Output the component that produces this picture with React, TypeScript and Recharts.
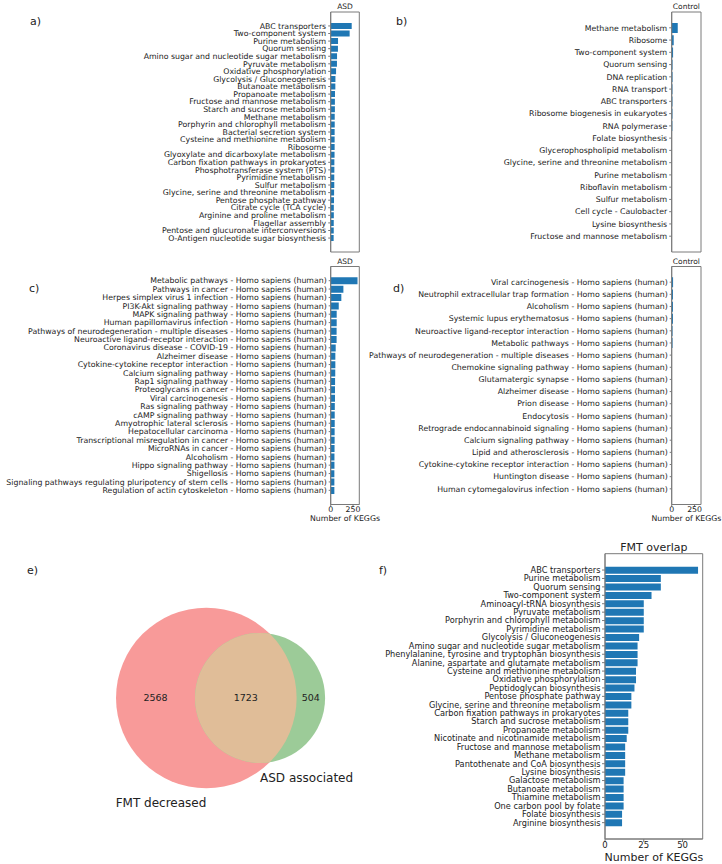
import React from 'react';
import { BarChart, Bar, XAxis, YAxis, CartesianGrid, ScatterChart, Scatter, ZAxis } from 'recharts';

const FONT = '"DejaVu Sans", sans-serif';
const INK = '#222222';
const FRAME = '#7a7a7a';
const BLUE = '#1f77b4';

// a) ASD - microbial KEGG pathways
const asdMicrobeNames = [
  'ABC transporters', 'Two-component system', 'Purine metabolism', 'Quorum sensing',
  'Amino sugar and nucleotide sugar metabolism', 'Pyruvate metabolism', 'Oxidative phosphorylation',
  'Glycolysis / Gluconeogenesis', 'Butanoate metabolism', 'Propanoate metabolism',
  'Fructose and mannose metabolism', 'Starch and sucrose metabolism', 'Methane metabolism',
  'Porphyrin and chlorophyll metabolism', 'Bacterial secretion system', 'Cysteine and methionine metabolism',
  'Ribosome', 'Glyoxylate and dicarboxylate metabolism', 'Carbon fixation pathways in prokaryotes',
  'Phosphotransferase system (PTS)', 'Pyrimidine metabolism', 'Sulfur metabolism',
  'Glycine, serine and threonine metabolism', 'Pentose phosphate pathway', 'Citrate cycle (TCA cycle)',
  'Arginine and proline metabolism', 'Flagellar assembly', 'Pentose and glucuronate interconversions',
  'O-Antigen nucleotide sugar biosynthesis',
];
const asdMicrobeCounts = [235, 212, 82, 81, 71, 70, 60, 53, 52, 48, 47, 47, 45, 45, 44, 44, 44, 43, 41, 41, 40, 40, 38, 37, 35, 35, 34, 34, 33];

// b) Control - microbial KEGG pathways
const ctrlMicrobeNames = [
  'Methane metabolism', 'Ribosome', 'Two-component system', 'Quorum sensing', 'DNA replication',
  'RNA transport', 'ABC transporters', 'Ribosome biogenesis in eukaryotes', 'RNA polymerase',
  'Folate biosynthesis', 'Glycerophospholipid metabolism', 'Glycine, serine and threonine metabolism',
  'Purine metabolism', 'Riboflavin metabolism', 'Sulfur metabolism', 'Cell cycle - Caulobacter',
  'Lysine biosynthesis', 'Fructose and mannose metabolism',
];
const ctrlMicrobeCounts = [66, 22, 15, 9, 9, 8, 8, 8, 7, 3, 3, 3, 3, 3, 3, 2, 2, 2];

// c) ASD - human KEGG pathways
const asdHumanNames = [
  'Metabolic pathways', 'Pathways in cancer', 'Herpes simplex virus 1 infection', 'PI3K-Akt signaling pathway',
  'MAPK signaling pathway', 'Human papillomavirus infection', 'Pathways of neurodegeneration - multiple diseases',
  'Neuroactive ligand-receptor interaction', 'Coronavirus disease - COVID-19', 'Alzheimer disease',
  'Cytokine-cytokine receptor interaction', 'Calcium signaling pathway', 'Rap1 signaling pathway',
  'Proteoglycans in cancer', 'Viral carcinogenesis', 'Ras signaling pathway', 'cAMP signaling pathway',
  'Amyotrophic lateral sclerosis', 'Hepatocellular carcinoma', 'Transcriptional misregulation in cancer',
  'MicroRNAs in cancer', 'Alcoholism', 'Hippo signaling pathway', 'Shigellosis',
  'Signaling pathways regulating pluripotency of stem cells', 'Regulation of actin cytoskeleton',
].map((n) => `${n} - Homo sapiens (human)`);
const asdHumanCounts = [300, 142, 119, 90, 67, 67, 66, 66, 56, 52, 52, 51, 49, 48, 48, 46, 45, 45, 44, 44, 43, 42, 42, 41, 41, 41];

// d) Control - human KEGG pathways
const ctrlHumanNames = [
  'Viral carcinogenesis', 'Neutrophil extracellular trap formation', 'Alcoholism', 'Systemic lupus erythematosus',
  'Neuroactive ligand-receptor interaction', 'Metabolic pathways', 'Pathways of neurodegeneration - multiple diseases',
  'Chemokine signaling pathway', 'Glutamatergic synapse', 'Alzheimer disease', 'Prion disease', 'Endocytosis',
  'Retrograde endocannabinoid signaling', 'Calcium signaling pathway', 'Lipid and atherosclerosis',
  'Cytokine-cytokine receptor interaction', 'Huntington disease', 'Human cytomegalovirus infection',
].map((n) => `${n} - Homo sapiens (human)`);
const ctrlHumanCounts = [15, 14, 14, 14, 9, 9, 3, 3, 3, 3, 3, 3, 3, 3, 2, 2, 2, 2];

// f) FMT overlap
const overlapNames = [
  'ABC transporters', 'Purine metabolism', 'Quorum sensing', 'Two-component system', 'Aminoacyl-tRNA biosynthesis',
  'Pyruvate metabolism', 'Porphyrin and chlorophyll metabolism', 'Pyrimidine metabolism',
  'Glycolysis / Gluconeogenesis', 'Amino sugar and nucleotide sugar metabolism',
  'Phenylalanine, tyrosine and tryptophan biosynthesis', 'Alanine, aspartate and glutamate metabolism',
  'Cysteine and methionine metabolism', 'Oxidative phosphorylation', 'Peptidoglycan biosynthesis',
  'Pentose phosphate pathway', 'Glycine, serine and threonine metabolism', 'Carbon fixation pathways in prokaryotes',
  'Starch and sucrose metabolism', 'Propanoate metabolism', 'Nicotinate and nicotinamide metabolism',
  'Fructose and mannose metabolism', 'Methane metabolism', 'Pantothenate and CoA biosynthesis',
  'Lysine biosynthesis', 'Galactose metabolism', 'Butanoate metabolism', 'Thiamine metabolism',
  'One carbon pool by folate', 'Folate biosynthesis', 'Arginine biosynthesis',
];
const overlapCounts = [60, 36, 36, 30, 25, 25, 25, 25, 22, 21, 21, 21, 20, 20, 19, 17, 17, 15, 15, 15, 14, 13, 13, 13, 13, 12, 12, 12, 12, 11, 11];

// e) venn
const vennSetNames = ['FMT decreased', 'ASD associated'];
const vennSubsetCounts = [2568, 504, 1723]; // only A, only B, both

const sharedDomain: [number, number] = [0, 320];
const sharedTicks = [0, 250];
const overlapDomain: [number, number] = [0, 63];
const overlapTicks = [0, 25, 50];

const toRows = (names: string[], values: number[]) => names.map((name, i) => ({ name, value: values[i] }));

type Margin = { top: number; right: number; bottom: number; left: number };

interface BarPanelProps {
  names: string[];
  values: number[];
  left: number;
  top: number;
  width: number;
  height: number;
  margin: Margin;
  axisWidth: number;
  xAxisHeight: number;
  showTicks: boolean;
  domain: [number, number];
  ticks: number[];
  labelSize: number;
  tickFont: number;
  tickLen: number;
  tickGap: number;
}

// frame = grid lines only at the plot edges
const frameRows = ({ offset }: any) => [offset.top, offset.top + offset.height];
const frameCols = ({ offset }: any) => [offset.left, offset.left + offset.width];

const BarPanel = (p: BarPanelProps) => {
  const data = toRows(p.names, p.values);
  const plotH = p.height - p.margin.top - p.margin.bottom - p.xAxisHeight;
  // matplotlib-like outer margin: bars of height 0.8 plus 5% padding
  const n = data.length;
  const units = (n - 0.2) * 1.1;
  const pad = (plotH * (1 - n / units)) / 2;
  const line = { stroke: FRAME, strokeWidth: 1 };
  return (
    <div style={{ position: 'absolute', left: p.left, top: p.top }}>
      <BarChart width={p.width} height={p.height} data={data} layout="vertical" margin={p.margin} barCategoryGap="10%">
        <CartesianGrid
          stroke={FRAME}
          fill="none"
          horizontalCoordinatesGenerator={frameRows}
          verticalCoordinatesGenerator={frameCols}
        />
        <XAxis
          type="number"
          dataKey="value"
          domain={p.domain}
          ticks={p.ticks}
          allowDataOverflow
          height={p.xAxisHeight}
          axisLine={line}
          tickLine={p.showTicks ? line : false}
          tickSize={p.tickLen}
          tickMargin={0}
          tick={p.showTicks ? { fontSize: p.tickFont, fill: INK } : false}
        />
        <YAxis
          type="category"
          dataKey="name"
          width={p.axisWidth}
          interval={0}
          padding={{ top: pad, bottom: pad }}
          axisLine={line}
          tickLine={line}
          tickSize={p.tickLen}
          tickMargin={p.tickGap}
          tick={(t: any) => (
            <text x={t.x} y={t.y} dy="0.35em" textAnchor="end" fontSize={p.labelSize} fill={INK} fontFamily={FONT}>
              {t.payload.value}
            </text>
          )}
        />
        <Bar dataKey="value" fill={BLUE} isAnimationActive={false} />
      </BarChart>
    </div>
  );
};

const Txt = ({ x, y, size, children, anchor = 'middle' }: { x: number; y: number; size: number; children: React.ReactNode; anchor?: 'middle' | 'start' }) => (
  <div
    style={{
      position: 'absolute',
      left: x,
      top: y,
      transform: anchor === 'middle' ? 'translate(-50%, -50%)' : 'translate(0, -50%)',
      fontSize: size,
      lineHeight: 1,
      whiteSpace: 'nowrap',
      color: INK,
      fontFamily: FONT,
    }}
  >
    {children}
  </div>
);

// lens area of two circles at distance d
function lensArea(d: number, r1: number, r2: number) {
  if (d >= r1 + r2) return 0;
  if (d <= Math.abs(r1 - r2)) return Math.PI * Math.min(r1, r2) ** 2;
  const a = r1 * r1 * Math.acos((d * d + r1 * r1 - r2 * r2) / (2 * d * r1));
  const b = r2 * r2 * Math.acos((d * d + r2 * r2 - r1 * r1) / (2 * d * r2));
  const c = 0.5 * Math.sqrt((-d + r1 + r2) * (d + r1 - r2) * (d - r1 + r2) * (d + r1 + r2));
  return a + b - c;
}

function solveDistance(r1: number, r2: number, target: number) {
  let lo = Math.abs(r1 - r2);
  let hi = r1 + r2;
  for (let i = 0; i < 60; i++) {
    const mid = (lo + hi) / 2;
    if (lensArea(mid, r1, r2) > target) lo = mid;
    else hi = mid;
  }
  return (lo + hi) / 2;
}

const VENN_W = 361;
const VENN_H = 344;
const vennXDomain: [number, number] = [-2.285, 1.713];
const vennYDomain: [number, number] = [-1.839, 1.971];

const circleShape = (fill: string, clipUse?: string, clipDefine?: string) => (p: any) => {
  const r = Math.sqrt(Math.max(p.size ?? 0, 0) / Math.PI);
  return (
    <g>
      {clipDefine && (
        <defs>
          <clipPath id={clipDefine}>
            <circle cx={p.cx} cy={p.cy} r={r} />
          </clipPath>
        </defs>
      )}
      <circle cx={p.cx} cy={p.cy} r={r} fill={fill} clipPath={clipUse ? `url(#${clipUse})` : undefined} />
    </g>
  );
};

const VennPanel = () => {
  const [onlyA, onlyB, both] = vennSubsetCounts;
  const sizeA = onlyA + both;
  const sizeB = onlyB + both;
  const rA = 1;
  const rB = Math.sqrt(sizeB / sizeA);
  const d = solveDistance(rA, rB, (Math.PI * both) / sizeA);
  const pxPerUnit = VENN_W / (vennXDomain[1] - vennXDomain[0]);

  const circleA = [{ x: 0, y: 0, z: sizeA }];
  const circleB = [{ x: d, y: 0, z: sizeB }];
  const regionLabels = [
    { x: (-rA + d - rB) / 2, y: 0, z: 0, label: String(onlyA) },
    { x: (d - rB + rA) / 2, y: 0, z: 0, label: String(both) },
    { x: (rA + d + rB) / 2, y: 0, z: 0, label: String(onlyB) },
  ];
  const setLabels = [
    { x: 0, y: -rA, z: 0, label: vennSetNames[0], anchor: 'end' },
    { x: d, y: -rB, z: 0, label: vennSetNames[1], anchor: 'start' },
  ];

  return (
    <div style={{ position: 'absolute', left: 0, top: 520 }}>
      <ScatterChart width={VENN_W} height={VENN_H} margin={{ top: 0, right: 0, bottom: 0, left: 0 }}>
        <XAxis type="number" dataKey="x" domain={vennXDomain} allowDataOverflow hide />
        <YAxis type="number" dataKey="y" domain={vennYDomain} allowDataOverflow hide />
        <ZAxis type="number" dataKey="z" domain={[0, sizeA]} range={[0, Math.PI * pxPerUnit * pxPerUnit]} />
        <Scatter data={circleA} shape={circleShape('#f89a99')} isAnimationActive={false} />
        <Scatter data={circleB} shape={circleShape('#9ccb98', undefined, 'venn-clip-b')} isAnimationActive={false} />
        <Scatter data={circleA} shape={circleShape('#e0bd98', 'venn-clip-b')} isAnimationActive={false} />
        <Scatter
          data={regionLabels}
          isAnimationActive={false}
          shape={(p: any) => (
            <text x={p.cx} y={p.cy} dy="0.35em" textAnchor="middle" fontSize={9.5} fill={INK} fontFamily={FONT}>
              {p.payload.label}
            </text>
          )}
        />
        <Scatter
          data={setLabels}
          isAnimationActive={false}
          shape={(p: any) => (
            <text x={p.cx} y={p.cy + 18.8} textAnchor={p.payload.anchor} fontSize={12} fill={INK} fontFamily={FONT}>
              {p.payload.label}
            </text>
          )}
        />
      </ScatterChart>
    </div>
  );
};

export default function App() {
  const small = 7.8;
  return (
    <div style={{ position: 'absolute', left: 0, top: 0, width: 722, height: 864, background: '#fff', fontFamily: FONT, overflow: 'hidden' }}>
      <BarPanel
        names={asdMicrobeNames} values={asdMicrobeCounts}
        left={0} top={0} width={361} height={254}
        margin={{ top: 12, right: 1.7, bottom: 2, left: 0 }}
        axisWidth={330.7} xAxisHeight={0} showTicks={false}
        domain={sharedDomain} ticks={sharedTicks}
        labelSize={small} tickFont={small} tickLen={2.5} tickGap={2}
      />
      <BarPanel
        names={ctrlMicrobeNames} values={ctrlMicrobeCounts}
        left={361} top={0} width={361} height={254}
        margin={{ top: 12, right: 21, bottom: 2, left: 0 }}
        axisWidth={310.7} xAxisHeight={0} showTicks={false}
        domain={sharedDomain} ticks={sharedTicks}
        labelSize={small} tickFont={small} tickLen={2.5} tickGap={2}
      />
      <BarPanel
        names={asdHumanNames} values={asdHumanCounts}
        left={0} top={250} width={361} height={270}
        margin={{ top: 16.5, right: 1.7, bottom: 3.5, left: 0 }}
        axisWidth={330.7} xAxisHeight={12} showTicks
        domain={sharedDomain} ticks={sharedTicks}
        labelSize={small} tickFont={small} tickLen={2} tickGap={2}
      />
      <BarPanel
        names={ctrlHumanNames} values={ctrlHumanCounts}
        left={361} top={250} width={361} height={270}
        margin={{ top: 16.5, right: 21, bottom: 3.5, left: 0 }}
        axisWidth={310.7} xAxisHeight={12} showTicks
        domain={sharedDomain} ticks={sharedTicks}
        labelSize={small} tickFont={small} tickLen={2} tickGap={2}
      />
      <BarPanel
        names={overlapNames} values={overlapCounts}
        left={361} top={520} width={361} height={344}
        margin={{ top: 33.7, right: 19.3, bottom: 11, left: 0 }}
        axisWidth={244} xAxisHeight={14} showTicks
        domain={overlapDomain} ticks={overlapTicks}
        labelSize={8.2} tickFont={8.5} tickLen={3} tickGap={1.5}
      />
      <VennPanel />

      <Txt x={30} y={20.7} size={11} anchor="start">a)</Txt>
      <Txt x={396} y={20.5} size={11} anchor="start">b)</Txt>
      <Txt x={29} y={288.3} size={11} anchor="start">c)</Txt>
      <Txt x={393} y={288.3} size={11} anchor="start">d)</Txt>
      <Txt x={27} y={570} size={11} anchor="start">e)</Txt>
      <Txt x={379} y={570} size={11} anchor="start">f)</Txt>

      <Txt x={345} y={6.7} size={7.5}>ASD</Txt>
      <Txt x={686.4} y={6.7} size={7.5}>Control</Txt>
      <Txt x={345} y={261.7} size={7.5}>ASD</Txt>
      <Txt x={686.4} y={261.7} size={7.5}>Control</Txt>
      <Txt x={345} y={519.3} size={small}>Number of KEGGs</Txt>
      <Txt x={686.4} y={519.3} size={small}>Number of KEGGs</Txt>
      <Txt x={653.9} y={546.7} size={11}>FMT overlap</Txt>
      <Txt x={653.9} y={857.3} size={11}>Number of KEGGs</Txt>
    </div>
  );
}
